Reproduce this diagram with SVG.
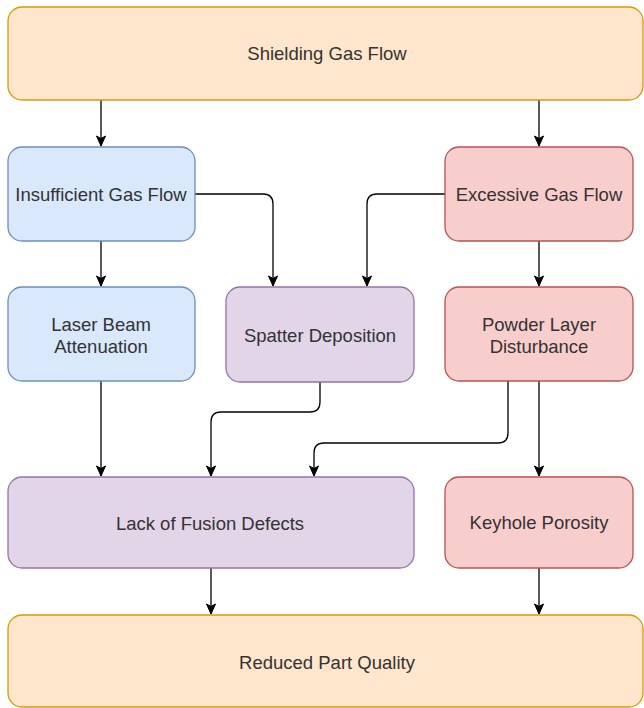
<svg xmlns="http://www.w3.org/2000/svg" width="644" height="708" viewBox="0 0 644 708">
  <style>
    .box { stroke-width: 1.3; }
    .orange { fill: #ffe6cc; stroke: #d79b00; }
    .blue { fill: #dae8fc; stroke: #6c8ebf; }
    .purple { fill: #e1d5e7; stroke: #9673a6; }
    .red { fill: #f8cecc; stroke: #b85450; }
    text { font-family: "Liberation Sans", Arial, Helvetica, sans-serif; font-size: 18.5px; fill: #333333; text-anchor: middle; dominant-baseline: central; }
    .edge { fill: none; stroke: #000000; stroke-width: 1.3; marker-end: url(#arrow); }
  </style>
  <defs>
    <marker id="arrow" markerUnits="userSpaceOnUse" markerWidth="12" markerHeight="12" viewBox="0 0 12 12" refX="11" refY="6" orient="auto">
      <path d="M1,1.5 L11,6 L1,10.5 L3.5,6 Z" fill="#000000" stroke="#000000" stroke-width="1"/>
    </marker>
  </defs>

  <!-- connectors -->
  <g id="connectors">
    <path class="edge" d="M101,100 L101,146"/>
    <path class="edge" d="M539,100 L539,146"/>
    <path class="edge" d="M195,194 L263,194 Q273,194 273,204 L273,286"/>
    <path class="edge" d="M445,194 L377,194 Q367,194 367,204 L367,286"/>
    <path class="edge" d="M101,241 L101,286"/>
    <path class="edge" d="M539,241 L539,286"/>
    <path class="edge" d="M101,381 L101,476"/>
    <path class="edge" d="M320,382 L320,402 Q320,412 310,412 L221,412 Q211,412 211,422 L211,476"/>
    <path class="edge" d="M508,381 L508,433 Q508,443 498,443 L324,443 Q314,443 314,453 L314,476"/>
    <path class="edge" d="M539,381 L539,476"/>
    <path class="edge" d="M211,568 L211,614"/>
    <path class="edge" d="M539,568 L539,614"/>
  </g>

  <g id="shielding-gas-flow">
    <rect class="box orange" x="8" y="7" width="635" height="93" rx="14"/>
    <text x="327" y="53">Shielding Gas Flow</text>
  </g>
  <g id="insufficient-gas-flow">
    <rect class="box blue" x="8" y="147" width="187" height="94" rx="14"/>
    <text x="101" y="194">Insufficient Gas Flow</text>
  </g>
  <g id="excessive-gas-flow">
    <rect class="box red" x="445" y="147" width="188" height="94" rx="14"/>
    <text x="539" y="194">Excessive Gas Flow</text>
  </g>
  <g id="laser-beam-attenuation">
    <rect class="box blue" x="8" y="287" width="187" height="94" rx="14"/>
    <text x="101" y="324">Laser Beam</text>
    <text x="101" y="346">Attenuation</text>
  </g>
  <g id="spatter-deposition">
    <rect class="box purple" x="226" y="287" width="188" height="95" rx="14"/>
    <text x="320" y="335">Spatter Deposition</text>
  </g>
  <g id="powder-layer-disturbance">
    <rect class="box red" x="445" y="287" width="188" height="94" rx="14"/>
    <text x="539" y="324">Powder Layer</text>
    <text x="539" y="346">Disturbance</text>
  </g>
  <g id="lack-of-fusion-defects">
    <rect class="box purple" x="8" y="477" width="406" height="91" rx="14"/>
    <text x="210" y="523">Lack of Fusion Defects</text>
  </g>
  <g id="keyhole-porosity">
    <rect class="box red" x="445" y="477" width="188" height="91" rx="14"/>
    <text x="539" y="522">Keyhole Porosity</text>
  </g>
  <g id="reduced-part-quality">
    <rect class="box orange" x="8" y="615" width="635" height="92" rx="14"/>
    <text x="327" y="662">Reduced Part Quality</text>
  </g>
</svg>
